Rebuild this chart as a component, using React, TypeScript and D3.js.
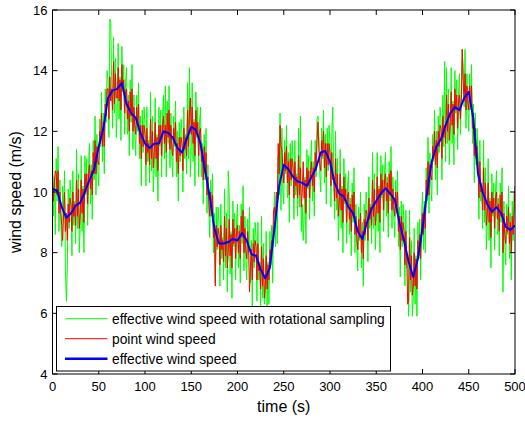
import React from "react";
import * as d3 from "d3";

// ---- data ----
const blueTimes = d3.range(0, 501, 5); // s
const effectiveWind = [
  10.1, 10.05, 9.5, 9.15, 9.3, 9.55, 9.65, 10.0, 10.4, 10.75,
  11.5, 12.1, 13.1, 13.35, 13.4, 13.6, 12.9, 12.6, 12.45, 11.95,
  11.6, 11.45, 11.6, 11.6, 12.0, 11.95, 11.8, 11.45, 11.3, 11.75,
  12.15, 12.05, 11.6, 10.7, 9.85, 8.8, 8.3, 8.3, 8.35, 8.45,
  8.4, 8.65, 8.4, 7.95, 7.9, 7.45, 7.15, 7.5, 8.8, 10.2,
  10.9, 10.75, 10.5, 10.35, 10.3, 10.2, 10.5, 10.8, 11.3, 11.35,
  11.0, 10.3, 9.95, 9.85, 9.5, 9.3, 8.7, 8.45, 9.0, 9.45,
  9.7, 9.95, 10.12, 9.95, 9.75, 9.0, 8.4, 7.7, 7.2, 7.8,
  8.8, 10.0, 11.0, 11.5, 11.75, 12.2, 12.6, 12.8, 12.7, 13.1,
  13.3, 12.4, 10.6, 10.0, 9.6, 9.35, 9.5, 9.3, 8.85, 8.75, 8.9,
];

const sampleTimes = d3.range(0, 501, 1); // s
const pointWind = [
  10.6, 9.7, 10.3, 10.7, 10.6, 9.9, 10.7, 9.3, 10.0, 9.3,
  8.9, 8.4, 9.3, 10.0, 8.7, 9.3, 8.4, 9.6, 9.0, 9.8,
  9.6, 8.7, 10.0, 9.2, 9.6, 8.9, 10.4, 9.2, 10.1, 8.8,
  9.3, 10.4, 9.3, 10.1, 9.0, 10.6, 10.0, 10.6, 9.6, 10.6,
  10.9, 10.1, 10.7, 9.9, 11.3, 10.6, 11.7, 10.6, 11.5, 11.0,
  10.9, 12.0, 11.6, 12.6, 11.5, 12.3, 11.5, 12.9, 12.5, 13.4,
  13.4, 12.4, 13.8, 13.0, 13.4, 12.7, 14.3, 12.9, 13.9, 13.1,
  13.1, 14.1, 13.0, 13.7, 12.7, 14.2, 13.4, 13.7, 12.6, 13.3,
  13.4, 12.4, 13.0, 12.0, 13.3, 12.5, 13.4, 12.0, 12.8, 12.2,
  11.9, 12.8, 12.2, 12.9, 11.6, 12.2, 11.1, 12.2, 11.5, 12.2,
  11.9, 10.9, 12.1, 11.3, 11.6, 10.9, 12.4, 11.1, 12.0, 10.8,
  11.3, 12.3, 11.1, 11.8, 10.7, 12.2, 11.6, 12.2, 11.2, 12.2,
  12.5, 11.6, 12.2, 11.3, 12.6, 11.8, 12.7, 11.4, 12.2, 11.5,
  11.2, 12.1, 11.6, 12.3, 11.0, 11.6, 10.6, 11.8, 11.2, 11.8,
  11.6, 10.7, 12.1, 11.4, 11.8, 11.2, 12.7, 11.5, 12.5, 13.1,
  11.9, 12.8, 11.6, 12.3, 11.2, 12.7, 11.9, 12.3, 11.2, 12.0,
  12.1, 11.0, 11.4, 10.4, 11.5, 10.6, 11.3, 9.9, 10.5, 9.7,
  9.2, 10.0, 9.3, 9.9, 8.5, 8.9, 6.9, 8.9, 8.2, 8.8,
  8.6, 7.6, 8.9, 8.1, 8.4, 7.7, 9.2, 7.9, 8.8, 7.5,
  8.0, 9.1, 7.9, 8.6, 7.5, 9.1, 8.3, 8.8, 7.8, 8.7,
  8.9, 8.0, 8.7, 7.8, 9.2, 8.5, 9.4, 8.0, 8.8, 8.1,
  7.8, 8.7, 8.1, 6.7, 7.5, 8.1, 7.1, 8.3, 7.7, 8.4,
  8.2, 7.1, 8.3, 7.4, 7.6, 6.8, 8.2, 6.9, 7.8, 6.5,
  6.9, 7.9, 6.8, 7.6, 7.1, 8.1, 7.9, 8.4, 8.2, 9.4,
  9.5, 9.0, 10.0, 9.5, 11.6, 10.6, 12.2, 11.5, 11.4, 10.8,
  10.3, 11.3, 10.7, 11.5, 10.3, 11.0, 9.9, 11.1, 10.4, 11.1,
  10.8, 9.8, 11.0, 10.2, 10.5, 9.8, 11.2, 9.9, 10.8, 9.5,
  10.0, 11.0, 9.8, 10.4, 9.3, 10.8, 10.2, 10.7, 9.8, 10.7,
  11.0, 10.2, 10.8, 10.0, 11.3, 10.7, 11.7, 12.3, 11.4, 10.9,
  10.7, 11.7, 11.2, 12.0, 10.8, 11.6, 10.5, 11.6, 10.9, 11.6,
  11.3, 10.2, 11.3, 10.4, 10.5, 9.7, 11.1, 9.8, 10.6, 9.2,
  9.7, 10.6, 9.4, 10.1, 9.0, 10.5, 9.7, 10.1, 9.0, 9.9,
  10.0, 9.1, 9.6, 8.7, 9.9, 9.2, 10.0, 8.6, 9.2, 8.5,
  8.1, 9.1, 8.5, 9.3, 8.0, 8.7, 7.8, 9.1, 8.6, 9.4,
  9.3, 8.4, 9.8, 9.1, 9.5, 8.9, 10.4, 9.2, 10.1, 8.9,
  9.4, 10.5, 9.3, 10.1, 9.0, 10.6, 9.9, 10.4, 9.4, 10.4,
  10.6, 9.7, 10.3, 9.3, 10.6, 9.9, 10.7, 9.4, 10.1, 9.5,
  9.2, 10.0, 9.4, 10.0, 8.7, 9.2, 8.1, 9.2, 8.4, 9.0,
  8.7, 7.6, 8.7, 7.8, 6.3, 6.4, 8.5, 7.1, 7.9, 6.6,
  6.9, 8.0, 6.9, 7.8, 6.8, 8.4, 7.9, 8.6, 7.8, 8.9,
  9.3, 8.6, 9.5, 8.8, 10.4, 9.9, 11.0, 9.9, 10.9, 10.5,
  10.4, 11.5, 11.1, 12.0, 10.9, 11.7, 10.8, 12.0, 11.5, 12.2,
  12.1, 11.1, 12.5, 11.8, 12.2, 11.6, 13.2, 12.0, 12.9, 11.7,
  12.3, 13.3, 12.2, 12.9, 11.9, 13.4, 12.7, 13.2, 12.1, 13.0,
  13.2, 12.4, 13.1, 14.7, 13.6, 13.0, 13.9, 12.7, 13.5, 13.0,
  12.7, 13.5, 12.8, 13.5, 12.1, 12.6, 11.2, 12.1, 11.1, 11.5,
  10.9, 9.8, 11.0, 10.0, 10.2, 9.4, 10.8, 9.4, 10.3, 8.9,
  9.3, 10.3, 9.0, 9.7, 8.5, 10.0, 9.3, 9.8, 8.8, 9.8,
  10.0, 9.1, 9.6, 8.7, 9.9, 9.2, 10.0, 8.0, 9.3, 8.6,
  8.3, 9.2, 8.7, 9.5, 8.3, 9.0, 8.0, 9.2, 8.6, 9.4,
  10.2,
];

const rotationalWind = [
  11.3, 9.2, 10.5, 8.6, 11.1, 9.7, 11.5, 8.7, 10.4, 9.0,
  8.2, 10.2, 9.1, 10.7, 7.4, 6.4, 7.5, 10.1, 8.8, 10.4,
  9.9, 7.9, 10.7, 8.9, 9.7, 8.3, 11.4, 8.8, 10.6, 8.0,
  8.9, 11.2, 8.7, 10.2, 8.0, 11.2, 9.9, 11.1, 8.9, 10.9,
  11.6, 9.6, 10.9, 9.1, 11.7, 10.4, 12.5, 9.9, 11.9, 10.7,
  10.2, 12.4, 11.5, 13.3, 11.0, 12.6, 10.6, 13.4, 12.3, 14.0,
  13.7, 11.8, 15.7, 15.6, 13.5, 12.1, 15.1, 12.6, 14.4, 11.8,
  12.7, 14.9, 12.4, 13.8, 11.7, 14.8, 13.3, 14.2, 11.9, 13.6,
  14.1, 11.9, 13.2, 11.2, 13.7, 12.3, 14.2, 11.4, 13.2, 11.9,
  11.2, 13.2, 12.0, 13.6, 11.1, 12.5, 10.2, 12.7, 11.3, 12.8,
  12.2, 10.2, 12.8, 11.0, 11.7, 10.3, 13.3, 10.7, 12.5, 10.0,
  10.9, 13.1, 10.5, 11.9, 9.7, 12.8, 11.5, 12.7, 10.5, 12.5,
  13.2, 11.1, 13.5, 10.5, 13.0, 11.6, 13.5, 10.8, 12.6, 11.2,
  10.5, 12.5, 11.5, 13.0, 10.5, 12.0, 9.7, 12.3, 11.0, 12.4,
  11.9, 10.0, 12.8, 11.1, 11.9, 10.6, 13.6, 11.1, 14.1, 10.5,
  11.5, 13.6, 11.0, 12.4, 10.2, 13.3, 11.8, 12.8, 10.5, 12.3,
  12.8, 10.5, 11.6, 9.6, 11.9, 10.4, 12.1, 9.3, 10.9, 9.4,
  8.5, 10.4, 9.2, 10.6, 8.0, 9.3, 7.0, 9.5, 8.1, 9.5,
  8.9, 6.9, 9.6, 7.8, 8.5, 7.1, 10.1, 7.5, 9.3, 6.7,
  10.7, 9.9, 7.3, 8.7, 6.5, 9.7, 8.2, 9.3, 7.1, 9.0,
  9.6, 7.5, 8.9, 7.0, 9.6, 8.3, 10.2, 7.4, 9.2, 7.8,
  7.1, 9.1, 8.0, 9.5, 7.0, 8.4, 6.2, 8.8, 7.5, 9.0,
  8.5, 6.4, 9.0, 7.1, 7.7, 6.2, 9.2, 6.5, 8.3, 6.3,
  6.5, 8.7, 6.2, 7.7, 6.3, 8.7, 7.6, 8.9, 7.0, 9.1,
  10.0, 8.2, 9.9, 8.3, 11.2, 9.9, 12.6, 9.4, 12.1, 10.1,
  9.6, 11.7, 10.6, 12.2, 9.8, 11.3, 9.0, 11.6, 10.2, 11.7,
  11.1, 9.1, 11.7, 9.9, 10.6, 9.2, 12.1, 9.5, 12.5, 8.7,
  9.6, 8.4, 9.2, 10.5, 8.3, 11.4, 10.1, 11.2, 9.1, 11.0,
  11.7, 9.7, 11.0, 9.2, 11.7, 10.5, 12.4, 12.5, 11.8, 10.6,
  10.0, 12.1, 11.1, 12.7, 10.3, 11.9, 9.6, 12.1, 10.7, 12.2,
  11.6, 9.5, 12.0, 12.8, 10.6, 9.1, 12.0, 9.4, 11.1, 8.4,
  9.3, 11.4, 8.8, 10.2, 8.0, 11.1, 9.6, 10.6, 8.3, 10.2,
  10.7, 8.6, 9.8, 7.9, 10.3, 9.0, 10.8, 8.0, 9.6, 8.2,
  7.4, 9.5, 8.4, 10.0, 7.5, 9.0, 6.9, 9.6, 8.4, 10.0,
  9.6, 7.7, 10.5, 8.8, 9.6, 8.3, 11.3, 8.8, 10.6, 8.1,
  9.0, 11.3, 8.7, 10.2, 8.0, 11.2, 9.8, 10.9, 8.7, 10.7,
  11.3, 9.2, 10.5, 8.5, 11.0, 9.7, 11.5, 8.8, 10.5, 9.2,
  8.5, 10.4, 9.3, 10.7, 8.2, 9.5, 7.2, 9.7, 8.2, 9.6,
  9.0, 6.9, 9.4, 7.5, 7.9, 5.9, 9.4, 6.7, 8.4, 5.9,
  6.5, 8.8, 6.3, 7.9, 5.9, 9.0, 7.8, 9.1, 7.1, 9.2,
  10.0, 8.1, 9.7, 8.0, 10.8, 9.7, 11.8, 9.3, 11.3, 10.2,
  9.7, 11.9, 11.0, 12.7, 10.4, 12.0, 9.9, 12.5, 11.3, 12.8,
  12.4, 10.4, 13.2, 11.5, 14.3, 11.0, 14.1, 11.6, 13.4, 10.9,
  11.9, 14.1, 11.6, 13.0, 10.9, 14.0, 12.6, 13.7, 11.4, 13.3,
  13.9, 11.9, 13.3, 14.7, 14.0, 12.8, 14.7, 12.1, 13.9, 12.7,
  12.0, 13.9, 12.7, 14.2, 11.6, 12.9, 10.3, 12.6, 10.9, 12.1,
  11.2, 9.1, 11.7, 9.7, 10.3, 8.8, 11.7, 9.0, 10.8, 8.1,
  8.9, 11.1, 8.4, 9.8, 7.5, 10.6, 9.2, 10.3, 8.1, 10.1,
  10.7, 8.6, 9.8, 7.9, 10.3, 9.0, 10.8, 6.7, 9.7, 8.3,
  7.6, 9.6, 8.6, 10.2, 7.8, 9.3, 7.1, 9.7, 8.4, 10.0,
  9.9,
];

const xTicks = [0, 50, 100, 150, 200, 250, 300, 350, 400, 450, 500];
const yTicks = [4, 6, 8, 10, 12, 14, 16];
const legendLabels = [
  "effective wind speed with rotational sampling",
  "point wind speed",
  "effective wind speed",
];

// ---- layout ----
const W = 525;
const H = 424;
const M = { left: 52.5, right: 515, top: 10, bottom: 374 };
const FONT = "Arial, 'Liberation Sans', Helvetica, sans-serif";

export default function App() {
  const x = d3.scaleLinear().domain([0, 500]).range([M.left, M.right]);
  const y = d3.scaleLinear().domain([4, 16]).range([M.bottom, M.top]);

  const line = d3
    .line<[number, number]>()
    .x((d) => x(d[0]))
    .y((d) => y(d[1]));

  const greenPath = line(sampleTimes.map((t, i) => [t, rotationalWind[i]]) as [number, number][]);
  const redPath = line(sampleTimes.map((t, i) => [t, pointWind[i]]) as [number, number][]);
  const bluePath = line(blueTimes.map((t, i) => [t, effectiveWind[i]]) as [number, number][]);

  const tickLen = 5;
  const legendStyles = [
    { color: "#00ff00", width: 1 },
    { color: "#ff0000", width: 1 },
    { color: "#0000ff", width: 2.5 },
  ];
  const lg = { x0: 56.5, y0: 306.5, x1: 390.5, y1: 371 };

  return (
    <svg
      width={W}
      height={H}
      style={{ position: "absolute", left: 0, top: 0, background: "#fff" }}
      fontFamily={FONT}
    >
      <defs>
        <clipPath id="plotClip">
          <rect x={M.left} y={M.top} width={M.right - M.left} height={M.bottom - M.top} />
        </clipPath>
      </defs>
      <rect x={0} y={0} width={W} height={H} fill="#fff" />

      <g clipPath="url(#plotClip)">
        <path d={greenPath ?? ""} fill="none" stroke="#00ff00" strokeWidth={1} />
        <path d={redPath ?? ""} fill="none" stroke="#ff0000" strokeWidth={1} />
        <path d={bluePath ?? ""} fill="none" stroke="#0000ff" strokeWidth={2} strokeLinejoin="round" />
      </g>

      {/* axes box */}
      <rect
        x={M.left}
        y={M.top}
        width={M.right - M.left}
        height={M.bottom - M.top}
        fill="none"
        stroke="#000"
        strokeWidth={1}
      />

      {/* x ticks */}
      {xTicks.map((t) => (
        <g key={"xt" + t}>
          <line x1={x(t)} x2={x(t)} y1={M.bottom} y2={M.bottom - tickLen} stroke="#000" />
          <line x1={x(t)} x2={x(t)} y1={M.top} y2={M.top + tickLen} stroke="#000" />
          <text x={x(t)} y={M.bottom + 17} fontSize={13} textAnchor="middle" fill="#000">
            {t}
          </text>
        </g>
      ))}

      {/* y ticks */}
      {yTicks.map((v) => (
        <g key={"yt" + v}>
          <line x1={M.left} x2={M.left + tickLen} y1={y(v)} y2={y(v)} stroke="#000" />
          <line x1={M.right} x2={M.right - tickLen} y1={y(v)} y2={y(v)} stroke="#000" />
          <text x={M.left - 5} y={y(v) + 4.5} fontSize={13} textAnchor="end" fill="#000">
            {v}
          </text>
        </g>
      ))}

      {/* axis labels */}
      <text x={(M.left + M.right) / 2} y={412} fontSize={16} textAnchor="middle" fill="#000">
        time (s)
      </text>
      <text
        transform={`translate(21,${(M.top + M.bottom) / 2}) rotate(-90)`}
        fontSize={16}
        textAnchor="middle"
        fill="#000"
      >
        wind speed (m/s)
      </text>

      {/* legend */}
      <rect
        x={lg.x0}
        y={lg.y0}
        width={lg.x1 - lg.x0}
        height={lg.y1 - lg.y0}
        fill="#fff"
        stroke="#000"
        strokeWidth={1}
      />
      {legendLabels.map((lab, i) => {
        const yy = 318.7 + i * 20;
        return (
          <g key={lab}>
            <line
              x1={65}
              x2={107.5}
              y1={yy}
              y2={yy}
              stroke={legendStyles[i].color}
              strokeWidth={legendStyles[i].width}
            />
            <text x={112} y={yy + 4.8} fontSize={13.8} fill="#000">
              {lab}
            </text>
          </g>
        );
      })}
    </svg>
  );
}
